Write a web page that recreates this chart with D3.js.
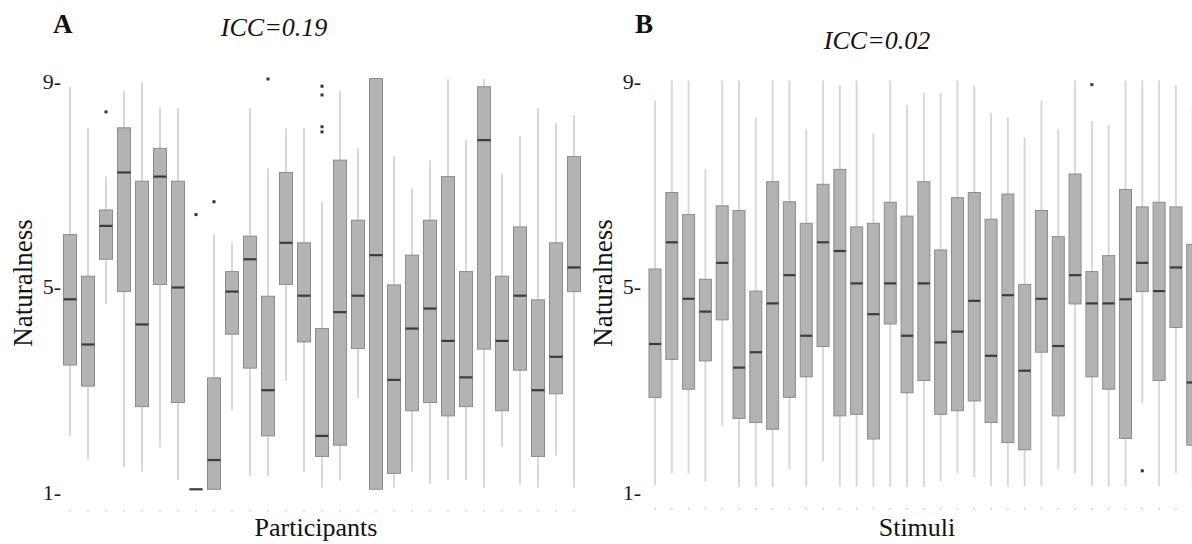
<!DOCTYPE html>
<html><head><meta charset="utf-8">
<script src="https://cdn.jsdelivr.net/npm/d3@7"></script>
<style>body{margin:0;background:#fff}svg{display:block}text{font-family:"Liberation Serif","Times New Roman",serif}</style>
</head><body>
<svg id="c" width="1192" height="544"></svg>
<script>
// ---------- data ----------
const participants = d3.range(1, 30).map(String);
const aLow  = [2.04,1.58,4.61,1.43,1.34,1.82,1.18,1,1,2.54,1.26,1.26,3.11,1.33,1.03,1.17,2.78,1,1.03,1.34,1.10,1.18,1.18,1.03,1.82,1.10,1.03,1.66,1.03];
const aQ1   = [3.42,3.01,5.48,4.85,2.61,4.99,2.69,1,1,4.02,3.36,2.04,4.99,3.87,1.64,1.86,3.74,1,1.31,2.53,2.69,2.43,2.61,3.73,2.53,3.32,1.64,2.86,4.85];
const aMed  = [4.70,3.82,6.13,7.17,4.21,7.09,4.93,1,1.57,4.85,5.48,2.93,5.80,4.77,2.04,4.45,4.77,5.56,3.13,4.13,4.52,3.89,3.18,7.80,3.89,4.77,2.93,3.58,5.32];
const aQ3   = [5.96,5.15,6.44,8.04,7.00,7.64,7.00,1,3.17,5.24,5.93,4.76,7.17,5.80,4.13,7.41,6.24,9,4.98,5.56,6.24,7.09,5.24,8.84,5.15,6.11,4.69,5.80,7.48];
const aHigh = [8.84,8.03,7.09,8.76,8.92,8.43,8.43,1,5.96,5.80,8.43,7.25,8.03,8.03,6.60,8.76,7.64,9,7.48,6.86,7.41,8.99,7.80,8.99,7.15,7.88,8.43,8.13,8.29];
const aOutCat = ["3","8","9","12","15","15","15","15"];
const aOutVal = [8.35,6.35,6.60,8.99,8.85,8.68,8.06,7.96];

const stimuli = d3.range(1, 34).map(String);
const bLow  = [1.08,1.31,1.31,1.15,2.24,1.05,1.05,1.05,1.39,1.06,1.54,1.05,1.05,1.05,1.05,1.05,1.05,1.15,1.31,1.23,1.06,1.06,1.06,1.06,1.39,1.31,1.06,1.06,1.06,2.67,1.06,1.31,1.06];
const bQ1   = [2.79,3.53,2.95,3.50,4.30,2.38,2.30,2.17,2.79,3.19,3.78,2.43,2.46,1.98,4.22,2.88,3.12,2.46,2.53,2.72,2.30,1.91,1.77,3.67,2.43,4.61,3.19,2.95,1.99,4.85,3.12,4.15,1.86];
const bMed  = [3.83,5.81,4.71,4.46,5.41,3.37,3.67,4.62,5.17,3.99,5.81,5.64,5.01,4.41,5.01,3.99,5.01,3.86,4.07,4.67,3.60,4.78,3.31,4.71,3.79,5.17,4.62,4.62,4.70,5.41,4.86,5.32,3.08];
const bQ3   = [5.29,6.78,6.35,5.09,6.52,6.43,4.86,6.99,6.60,6.18,6.94,7.23,6.11,6.18,6.59,6.32,6.99,5.66,6.68,6.78,6.26,6.75,4.99,6.43,5.92,7.14,5.24,5.55,6.84,6.50,6.59,6.50,5.77];
const bHigh = [8.57,8.96,8.96,7.23,8.96,8.96,8.24,8.96,8.96,8.01,8.96,8.87,8.96,7.93,8.96,8.48,8.72,8.72,8.96,8.87,8.33,8.24,7.85,8.57,8.01,8.96,8.17,8.09,8.96,8.96,8.96,8.87,8.45];
const bOutCat = ["27","30"];
const bOutVal = [8.88,1.36];

const yTicks = [1, 5, 9];

// ---------- drawing ----------
const svg = d3.select("#c");
const y = d3.scaleLinear().domain([1, 9]).range([489.3, 78.5]);

function panel(cfg) {
  const g = svg.append("g");
  const x = d3.scalePoint().domain(cfg.cats).range(cfg.xr);
  const rows = cfg.cats.map((c, i) => ({c, lo: cfg.lo[i], q1: cfg.q1[i], med: cfg.med[i], q3: cfg.q3[i], hi: cfg.hi[i]}));
  const hw = cfg.bw / 2;

  // baseline tick dots
  g.selectAll(".tk").data(cfg.cats).join("rect")
    .attr("x", d => x(d) - 0.75).attr("y", cfg.dotY).attr("width", 1.5).attr("height", 1.5)
    .attr("fill", "#c4c4c4");

  // whiskers
  g.selectAll(".wh").data(rows.filter(r => r.hi > r.lo)).join("line")
    .attr("x1", d => x(d.c)).attr("x2", d => x(d.c))
    .attr("y1", d => y(d.lo)).attr("y2", d => y(d.hi))
    .attr("stroke", "#d8d8d8").attr("stroke-width", 2);

  // boxes
  g.selectAll(".bx").data(rows).join("rect")
    .attr("x", d => x(d.c) - hw).attr("width", cfg.bw)
    .attr("y", d => y(d.q3)).attr("height", d => Math.max(0.01, y(d.q1) - y(d.q3)))
    .attr("fill", "#b3b3b3").attr("stroke", "#8c8c8c").attr("stroke-width", 1);

  // medians
  g.selectAll(".md").data(rows).join("line")
    .attr("x1", d => x(d.c) - hw).attr("x2", d => x(d.c) + hw)
    .attr("y1", d => y(d.med)).attr("y2", d => y(d.med))
    .attr("stroke", "#3c3c3c").attr("stroke-width", 2.2);

  // outliers
  g.selectAll(".ol").data(cfg.oc.map((c, i) => ({c, v: cfg.ov[i]}))).join("rect")
    .attr("x", d => x(d.c) - 1.5).attr("y", d => y(d.v) - 1.5).attr("width", 3).attr("height", 3)
    .attr("fill", "#333");

  // y axis
  const ax = g.append("g").attr("transform", `translate(${cfg.axX},0)`)
    .call(d3.axisLeft(y).tickValues(yTicks).tickSize(0).tickPadding(0).tickFormat(d => d + "-"));
  ax.select(".domain").remove();
  ax.selectAll("text").attr("font-family", "Liberation Serif, serif").attr("font-size", 22)
    .attr("fill", "#1a1a2a").attr("dy", "0.45em");

  // labels
  svg.append("text").attr("x", cfg.letterX).attr("y", 33).attr("font-size", 27).attr("font-weight", "bold")
    .attr("fill", "#111").text(cfg.letter);
  svg.append("text").attr("x", cfg.iccX).attr("y", cfg.iccY).attr("text-anchor", "middle")
    .attr("font-size", 26).attr("font-style", "italic").attr("fill", "#111").text(cfg.icc);
  svg.append("text").attr("x", cfg.xlabX).attr("y", 536).attr("text-anchor", "middle")
    .attr("font-size", 26).attr("fill", "#111").text(cfg.xlab);
  svg.append("text").attr("transform", `translate(${cfg.ylabX},283) rotate(-90)`).attr("text-anchor", "middle")
    .attr("font-size", 27).attr("fill", "#111").text("Naturalness");
}

panel({cats: participants, xr: [70, 574], bw: 13, lo: aLow, q1: aQ1, med: aMed, q3: aQ3, hi: aHigh,
  oc: aOutCat, ov: aOutVal, axX: 61, dotY: 510, letter: "A", letterX: 53, icc: "ICC=0.19", iccX: 274, iccY: 36,
  xlab: "Participants", xlabX: 316, ylabX: 32});
panel({cats: stimuli, xr: [655, 1192.7], bw: 12, lo: bLow, q1: bQ1, med: bMed, q3: bQ3, hi: bHigh,
  oc: bOutCat, ov: bOutVal, axX: 641, dotY: 508, letter: "B", letterX: 635, icc: "ICC=0.02", iccX: 877, iccY: 49,
  xlab: "Stimuli", xlabX: 917, ylabX: 612});
</script>
</body></html>
